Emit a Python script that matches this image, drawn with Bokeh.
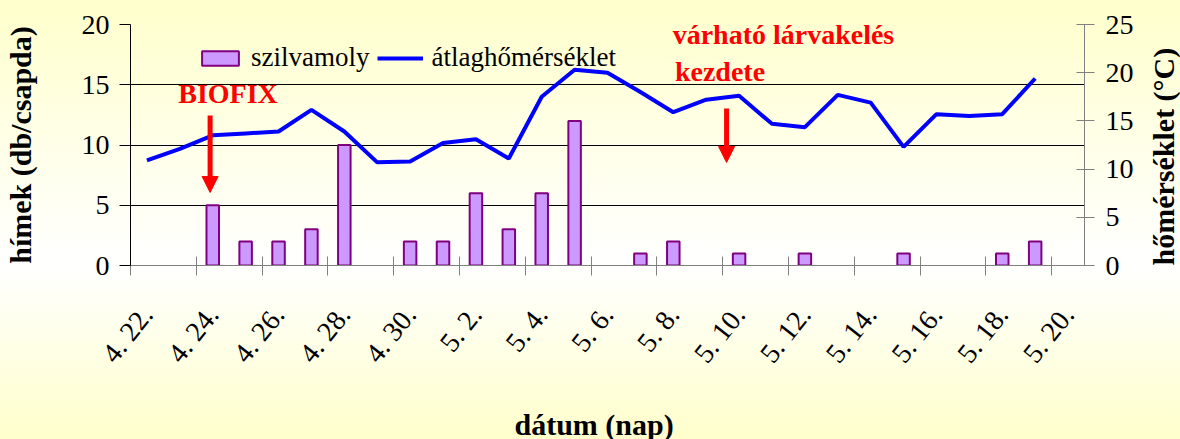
import math
import numpy as np
from bokeh.plotting import figure
from bokeh.models import (Range1d, LinearAxis, FixedTicker, Legend, LegendItem,
                          Label, Arrow, NormalHead, ColumnDataSource, Title)
from bokeh.embed import file_html
from bokeh.resources import INLINE

# ---------------- data ----------------
categories = ["4. 22.", "4. 23.", "4. 24.", "4. 25.", "4. 26.", "4. 27.", "4. 28.",
              "4. 29.", "4. 30.", "5. 1.", "5. 2.", "5. 3.", "5. 4.", "5. 5.",
              "5. 6.", "5. 7.", "5. 8.", "5. 9.", "5. 10.", "5. 11.", "5. 12.",
              "5. 13.", "5. 14.", "5. 15.", "5. 16.", "5. 17.", "5. 18.", "5. 19.",
              "5. 20."]
szilvamoly = [None, None, 5, 2, 2, 3, 10, None, 2, 2, 6, 3, 6, 12, None, 1, 2,
              None, 1, None, 1, None, None, 1, None, None, 1, 2, None]
atlaghomerseklet = [10.9, 12.1, 13.5, 13.7, 13.9, 16.15, 13.9, 10.7, 10.8, 12.7,
                    13.1, 11.1, 17.5, 20.3, 20.0, 18.0, 15.9, 17.2, 17.6, 14.7,
                    14.35, 17.7, 16.9, 12.3, 15.7, 15.5, 15.7, 19.4, None]
left_ticks = [0, 5, 10, 15, 20]
right_ticks = [0, 5, 10, 15, 20, 25]

FONT = "Liberation Serif"
TITLE_SIZE = "30px"

n = len(categories)
xpos = [i + 0.5 for i in range(n)]
src = ColumnDataSource(dict(
    x=xpos,
    moly=np.array(szilvamoly, dtype=float),
    temp=np.array(atlaghomerseklet, dtype=float),
))

p = figure(frame_width=954, frame_height=241,
           x_range=Range1d(0, n), y_range=Range1d(0, 20),
           output_backend="svg", toolbar_location=None,
           min_border_left=129, min_border_right=97,
           min_border_top=24, min_border_bottom=174)
p.border_fill_alpha = 0
p.background_fill_alpha = 0
p.outline_line_color = None
p.xgrid.visible = False
p.ygrid.ticker = FixedTicker(ticks=left_ticks)
p.ygrid.grid_line_color = "#000000"
p.ygrid.grid_line_width = 1

p.extra_y_ranges = {"temp": Range1d(0, 25)}

bars = p.vbar(x="x", top="moly", width=0.38, bottom=0, source=src,
              fill_color="#CC99FF", line_color="#800080", line_width=2)
line = p.line(x="x", y="temp", source=src, y_range_name="temp",
              line_color="#0000FF", line_width=4)

# x axis
xa = p.xaxis[0]
xa.ticker = FixedTicker(ticks=[xpos[i] for i in range(0, n, 2)],
                        minor_ticks=list(range(0, n, 2)))
xa.major_label_overrides = {xpos[i]: categories[i] for i in range(0, n, 2)}
xa.major_tick_line_color = None
xa.major_tick_in = 0
xa.major_tick_out = 0
xa.minor_tick_line_color = "#808080"
xa.minor_tick_in = 9
xa.minor_tick_out = 10
xa.axis_line_color = "#808080"
xa.major_label_orientation = 0.9
xa.major_label_standoff = 34
xa.major_label_text_font = FONT
xa.major_label_text_font_size = "28px"
xa.major_label_text_color = "#000000"

# x axis title, shifted like the reference
xtitle = Title(text="dátum (nap)", align="left", offset=384, standoff=48,
               text_font=FONT, text_font_style="bold",
               text_font_size=TITLE_SIZE, text_color="#000000")
p.add_layout(xtitle, "below")

# left axis
ya = p.yaxis[0]
ya.ticker = FixedTicker(ticks=left_ticks)
ya.minor_tick_line_color = None
ya.major_tick_in = 0
ya.major_tick_out = 11
ya.major_tick_line_color = "#000000"
ya.axis_line_color = "#000000"
ya.major_label_standoff = 10
ya.major_label_text_font = FONT
ya.major_label_text_font_size = "28px"
ya.major_label_text_color = "#000000"
ya.axis_label = "hímek (db/csapda)"
ya.axis_label_text_font = FONT
ya.axis_label_text_font_style = "bold"
ya.axis_label_text_font_size = TITLE_SIZE
ya.axis_label_text_color = "#000000"
ya.axis_label_standoff = 42

# right axis
ra = LinearAxis(y_range_name="temp", ticker=FixedTicker(ticks=right_ticks))
ra.minor_tick_line_color = None
ra.major_tick_in = 8
ra.major_tick_out = 10
ra.major_tick_line_color = "#808080"
ra.axis_line_color = "#808080"
ra.major_label_standoff = 11
ra.major_label_text_font = FONT
ra.major_label_text_font_size = "28px"
ra.major_label_text_color = "#000000"
ra.axis_label = "hőmérséklet (°C)"
ra.axis_label_text_font = FONT
ra.axis_label_text_font_style = "bold"
ra.axis_label_text_font_size = TITLE_SIZE
ra.axis_label_text_color = "#000000"
ra.axis_label_standoff = 27
try:
    ra.axis_label_orientation = math.pi / 2
except Exception:
    pass
try:
    ra.axis_label_align = "start"
except Exception:
    pass
p.add_layout(ra, "right")

# legend
legend = Legend(items=[LegendItem(label="szilvamoly", renderers=[bars]),
                       LegendItem(label="átlaghőmérséklet", renderers=[line])],
                orientation="horizontal", location=(67, 192),
                border_line_color=None, background_fill_alpha=0,
                padding=0, spacing=8, label_standoff=8, margin=0,
                glyph_width=46, glyph_height=18,
                label_text_font=FONT, label_text_font_size="27px",
                label_text_color="#000000")
p.add_layout(legend)

# annotations
red = "#FF0000"
p.add_layout(Label(x=1.45, y=14.3, text="BIOFIX", text_font=FONT,
                   text_font_style="bold", text_font_size="28px",
                   text_color=red, text_baseline="alphabetic"))
p.add_layout(Arrow(x_start=2.42, y_start=12.45, x_end=2.42, y_end=6.06,
                   line_color=red, line_width=5,
                   end=NormalHead(size=16, fill_color=red, line_color=red)))
p.add_layout(Label(x=16.48, y=19.15, text="várható lárvakelés", text_font=FONT,
                   text_font_style="bold", text_font_size="28px",
                   text_color=red, text_baseline="alphabetic"))
p.add_layout(Label(x=16.55, y=16.1, text="kezdete", text_font=FONT,
                   text_font_style="bold", text_font_size="28px",
                   text_color=red, text_baseline="alphabetic"))
p.add_layout(Arrow(x_start=18.12, y_start=13.03, x_end=18.12, y_end=8.55,
                   line_color=red, line_width=5,
                   end=NormalHead(size=16, fill_color=red, line_color=red)))

html = file_html(p, INLINE)
style = ("<style>html,body{overflow:hidden;}html{min-height:100%;"
         "background:linear-gradient(180deg,"
         "#ffffcc 0%,#ffffff 60%,#ffffcc 100%);}</style>")
html = html.replace("</head>", style + "</head>", 1)
open("out.html", "w").write(html)
